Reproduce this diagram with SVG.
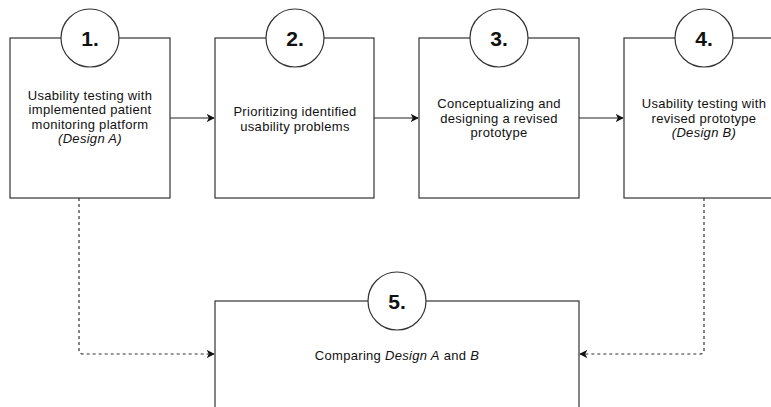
<svg xmlns="http://www.w3.org/2000/svg" width="771" height="407" viewBox="0 0 771 407">
<defs>
<style>
.box{fill:#fff;stroke:#333;stroke-width:1.2}
.circ{fill:#fff;stroke:#333;stroke-width:1.2}
.num{font-family:"Liberation Sans",Arial,sans-serif;font-weight:bold;font-size:21px;fill:#111;text-anchor:middle}
.lbl{font-family:"Liberation Sans",Arial,sans-serif;font-size:13px;letter-spacing:0.3px;fill:#111;text-anchor:middle}
.it{font-style:italic}
.edge{fill:none;stroke:#222;stroke-width:1.2}
.dot{fill:none;stroke:#333;stroke-width:1.2;stroke-dasharray:3 3}
</style>
<marker id="arr" viewBox="0 0 10 10" refX="9" refY="5" markerWidth="8" markerHeight="8" markerUnits="userSpaceOnUse" orient="auto">
<path d="M0,0 L10,5 L0,10 L2.5,5 Z" fill="#111"/>
</marker>
</defs>
<rect width="771" height="407" fill="#fff"/>
<g id="connectors">
<line class="edge" x1="170" y1="118" x2="214" y2="118" marker-end="url(#arr)"/>
<line class="edge" x1="374" y1="118" x2="418" y2="118" marker-end="url(#arr)"/>
<line class="edge" x1="579" y1="118" x2="623" y2="118" marker-end="url(#arr)"/>
<path class="dot" d="M79,198 L79,350 Q79,354 83,354 L214,354" marker-end="url(#arr)"/>
<path class="dot" d="M704,198 L704,350 Q704,354 700,354 L580,354" marker-end="url(#arr)"/>
</g>
<g id="node1">
<rect class="box" x="10" y="38" width="160" height="160"/>
<circle class="circ" cx="90" cy="38" r="29"/>
<text class="num" x="90" y="45.5">1.</text>
<text class="lbl" x="90" y="99.5">Usability testing with</text>
<text class="lbl" x="90" y="114">implemented patient</text>
<text class="lbl" x="90" y="128.5">monitoring platform</text>
<text class="lbl it" x="90" y="143">(Design A)</text>
</g>
<g id="node2">
<rect class="box" x="215" y="38" width="159" height="160"/>
<circle class="circ" cx="295" cy="38" r="29"/>
<text class="num" x="295" y="45.5">2.</text>
<text class="lbl" x="295" y="116">Prioritizing identified</text>
<text class="lbl" x="295" y="130.5">usability problems</text>
</g>
<g id="node3">
<rect class="box" x="419" y="38" width="160" height="160"/>
<circle class="circ" cx="499" cy="38" r="29"/>
<text class="num" x="499" y="45.5">3.</text>
<text class="lbl" x="499" y="108">Conceptualizing and</text>
<text class="lbl" x="499" y="122.5">designing a revised</text>
<text class="lbl" x="499" y="137">prototype</text>
</g>
<g id="node4">
<rect class="box" x="624" y="38" width="160" height="160"/>
<circle class="circ" cx="704" cy="38" r="29"/>
<text class="num" x="704" y="45.5">4.</text>
<text class="lbl" x="704" y="108">Usability testing with</text>
<text class="lbl" x="704" y="122.5">revised prototype</text>
<text class="lbl it" x="704" y="137">(Design B)</text>
</g>
<g id="node5">
<rect class="box" x="215" y="301" width="364" height="120"/>
<circle class="circ" cx="397" cy="301" r="29"/>
<text class="num" x="397" y="308.5">5.</text>
<text class="lbl" x="397" y="359.5">Comparing <tspan class="it">Design A</tspan> and <tspan class="it">B</tspan></text>
</g>
</svg>
